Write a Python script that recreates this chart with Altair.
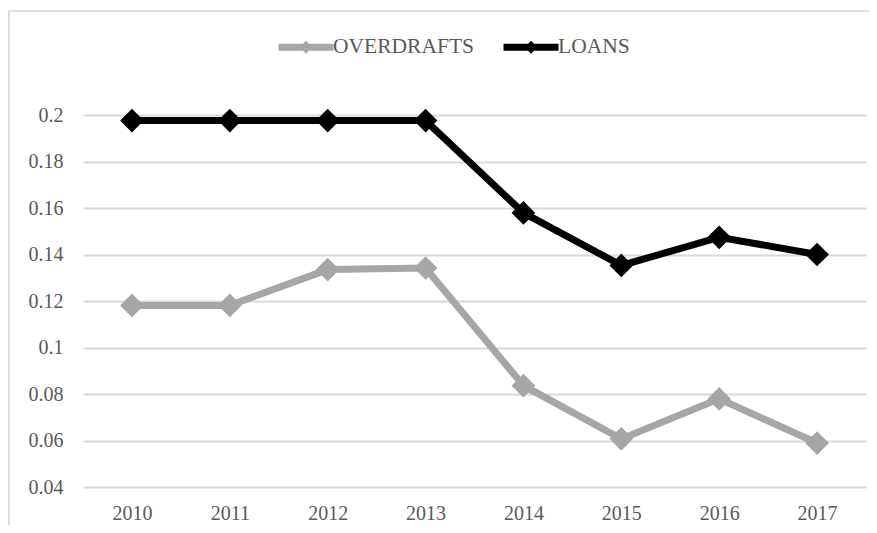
import altair as alt
import pandas as pd

years = ["2010", "2011", "2012", "2013", "2014", "2015", "2016", "2017"]
overdrafts = [0.1181, 0.1181, 0.1335, 0.1342, 0.0836, 0.0607, 0.0779, 0.0589]
loans = [0.1976, 0.1976, 0.1976, 0.1976, 0.1579, 0.1353, 0.1474, 0.1400]
series = ["OVERDRAFTS", "LOANS"]
colors = ["#A6A6A6", "#000000"]
y_ticks = [0.04, 0.06, 0.08, 0.10, 0.12, 0.14, 0.16, 0.18, 0.20]

rows = []
for name, vals in zip(series, [overdrafts, loans]):
    for yr, v in zip(years, vals):
        rows.append({"year": yr, "value": v, "series": name})
df = pd.DataFrame(rows)

FONT = "Liberation Serif"
TXT = "#595959"

x_enc = alt.X("year:O", sort=years,
              scale=alt.Scale(type="point", padding=0.5),
              axis=alt.Axis(title=None, labelAngle=0, ticks=False, domain=False,
                            grid=False, labelPadding=16, labelFont=FONT,
                            labelFontSize=20, labelColor=TXT))
y_enc = alt.Y("value:Q",
              scale=alt.Scale(domain=[0.04, 0.2], nice=False, zero=False),
              axis=alt.Axis(title=None, values=y_ticks, format="~g", ticks=False,
                            domain=False, grid=True, gridColor="#D9D9D9",
                            gridWidth=2, labelPadding=20, labelFont=FONT,
                            labelFontSize=20, labelColor=TXT))

legend_path = ("M-1,0 L1.245,0 "
               "M0.0625,0 L0.1225,-0.06 L0.1825,0 L0.1225,0.06 Z")

color_scale = alt.Scale(domain=series, range=colors)

lines = alt.Chart(df).mark_line(strokeWidth=7, strokeJoin="miter").encode(
    x=x_enc, y=y_enc,
    color=alt.Color("series:N", sort=series, scale=color_scale,
                    legend=alt.Legend(title=None, orient="none", direction="horizontal",
                                      legendX=192, legendY=-96,
                                      symbolType=legend_path, symbolSize=2401,
                                      symbolStrokeWidth=7,
                                      labelFont=FONT, labelFontSize=21.5,
                                      labelColor=TXT, labelOffset=2,
                                      columnPadding=15)),
)

points = alt.Chart(df).mark_point(shape="diamond", filled=True, size=560,
                                  opacity=1, strokeWidth=0).encode(
    x=x_enc, y=y_enc,
    color=alt.Color("series:N", sort=series, scale=color_scale, legend=None),
)

frame_df = pd.DataFrame({"k": [0]})
frame_top = alt.Chart(frame_df).mark_rule(color="#E0E0E0", strokeWidth=2).encode(
    x=alt.value(-75), x2=alt.value(794), y=alt.value(-104))
frame_left = alt.Chart(frame_df).mark_rule(color="#E0E0E0", strokeWidth=2).encode(
    x=alt.value(-74), y=alt.value(-104), y2=alt.value(420))

chart = alt.layer(frame_top, frame_left, lines, points).properties(
    width=783, height=372,
    autosize=alt.AutoSizeParams(type="none"),
    padding={"left": 75, "top": 107, "right": 3, "bottom": 38},
    background="white",
).configure_view(stroke=None)

chart.save("out.html", embed_options={"renderer": "svg", "actions": False})
